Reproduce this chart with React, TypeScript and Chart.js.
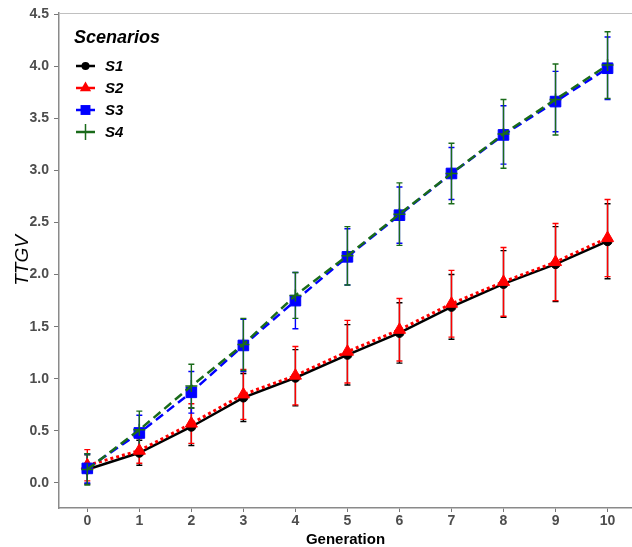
import React, { useEffect, useRef } from "react";
import { Chart, registerables } from "chart.js";

Chart.register(...registerables);

const generations = [0, 1, 2, 3, 4, 5, 6, 7, 8, 9, 10];
const s1 = [0.13, 0.29, 0.54, 0.82, 1.01, 1.23, 1.44, 1.69, 1.91, 2.1, 2.32];
const s1Err = [0.14, 0.12, 0.18, 0.23, 0.27, 0.29, 0.29, 0.31, 0.32, 0.36, 0.36];
const s2 = [0.17, 0.31, 0.57, 0.85, 1.03, 1.26, 1.47, 1.72, 1.93, 2.12, 2.35];
const s2Err = [0.15, 0.12, 0.19, 0.24, 0.28, 0.3, 0.3, 0.32, 0.33, 0.37, 0.37];
const s3 = [0.14, 0.48, 0.87, 1.32, 1.75, 2.17, 2.57, 2.97, 3.34, 3.66, 3.98];
const s3Err = [0.14, 0.17, 0.2, 0.25, 0.27, 0.27, 0.27, 0.25, 0.28, 0.29, 0.3];
const s4 = [0.13, 0.51, 0.93, 1.33, 1.8, 2.18, 2.58, 2.97, 3.35, 3.68, 4.01];
const s4Err = [0.15, 0.18, 0.21, 0.25, 0.22, 0.28, 0.3, 0.29, 0.33, 0.34, 0.32];
const yTickValues = [0, 0.5, 1, 1.5, 2, 2.5, 3, 3.5, 4, 4.5];
const scenarioNames = ["S1", "S2", "S3", "S4"];

const FONT = "'Liberation Sans', Arial, sans-serif";

type Series = {
  label: string;
  values: number[];
  errors: number[];
  color: string;
  dash: number[];
  width: number;
  pointStyle: string;
  radius: number;
  pointBorder: number;
  order: number;
};

const series: Series[] = [
  { label: scenarioNames[0], values: s1, errors: s1Err, color: "#000000", dash: [], width: 2.5, pointStyle: "circle", radius: 4.5, pointBorder: 1, order: 4 },
  { label: scenarioNames[1], values: s2, errors: s2Err, color: "#ff0000", dash: [3, 3], width: 3, pointStyle: "triangle", radius: 7, pointBorder: 1, order: 3 },
  { label: scenarioNames[2], values: s3, errors: s3Err, color: "#0000ff", dash: [9, 5], width: 2.5, pointStyle: "rect", radius: 7.5, pointBorder: 1, order: 2 },
  { label: scenarioNames[3], values: s4, errors: s4Err, color: "#1a6b1a", dash: [9, 5], width: 2.5, pointStyle: "cross", radius: 6, pointBorder: 1.5, order: 1 },
];

function drawMarker(ctx: CanvasRenderingContext2D, style: string, x: number, y: number, r: number, color: string, bw: number) {
  ctx.save();
  ctx.fillStyle = color;
  ctx.strokeStyle = color;
  ctx.lineWidth = bw;
  ctx.setLineDash([]);
  ctx.beginPath();
  if (style === "circle") {
    ctx.arc(x, y, r, 0, Math.PI * 2);
    ctx.fill();
  } else if (style === "triangle") {
    for (let i = 0; i < 3; i++) {
      const a = (i * 2 * Math.PI) / 3;
      const px = x + Math.sin(a) * r;
      const py = y - Math.cos(a) * r;
      if (i === 0) ctx.moveTo(px, py);
      else ctx.lineTo(px, py);
    }
    ctx.closePath();
    ctx.fill();
  } else if (style === "rect") {
    const s = Math.SQRT1_2 * r;
    ctx.rect(x - s, y - s, 2 * s, 2 * s);
    ctx.fill();
  } else {
    ctx.moveTo(x - r, y);
    ctx.lineTo(x + r, y);
    ctx.moveTo(x, y - r);
    ctx.lineTo(x, y + r);
    ctx.stroke();
  }
  ctx.restore();
}

const errorBarPlugin = {
  id: "errorBars",
  beforeDatasetsDraw(chart: any) {
    const ctx: CanvasRenderingContext2D = chart.ctx;
    const xs = chart.scales.x;
    const ys = chart.scales.y;
    ctx.save();
    series.forEach((s) => {
      ctx.strokeStyle = s.color;
      ctx.lineWidth = 1.4;
      ctx.setLineDash([]);
      s.values.forEach((v, i) => {
        const x = xs.getPixelForValue(generations[i]);
        const yt = ys.getPixelForValue(v + s.errors[i]);
        const yb = ys.getPixelForValue(v - s.errors[i]);
        ctx.beginPath();
        ctx.moveTo(x, yt);
        ctx.lineTo(x, yb);
        ctx.moveTo(x - 3, yt);
        ctx.lineTo(x + 3, yt);
        ctx.moveTo(x - 3, yb);
        ctx.lineTo(x + 3, yb);
        ctx.stroke();
      });
    });
    ctx.restore();
  },
  afterDraw(chart: any) {
    const ctx: CanvasRenderingContext2D = chart.ctx;
    const a = chart.chartArea;
    ctx.save();
    // top panel border
    ctx.strokeStyle = "#c0c0c0";
    ctx.lineWidth = 1.2;
    ctx.beginPath();
    ctx.moveTo(a.left, a.top + 0.5);
    ctx.lineTo(a.right, a.top + 0.5);
    ctx.stroke();

    // legend
    ctx.fillStyle = "#000";
    ctx.textBaseline = "middle";
    ctx.textAlign = "left";
    ctx.font = `italic bold 18px ${FONT}`;
    ctx.fillText("Scenarios", 74, 38);
    ctx.font = `italic bold 15px ${FONT}`;
    const ys0 = [66, 88, 110, 132];
    series.forEach((s, i) => {
      const y = ys0[i];
      ctx.strokeStyle = s.color;
      ctx.lineWidth = 2.5;
      ctx.setLineDash([]);
      ctx.beginPath();
      ctx.moveTo(76, y);
      ctx.lineTo(95, y);
      ctx.stroke();
      drawMarker(ctx, s.pointStyle, 85.5, y, s.pointStyle === "cross" ? 8 : s.radius - 0.5, s.color, s.pointBorder);
      ctx.fillStyle = "#000";
      ctx.fillText(s.label, 105, y + 1);
    });
    ctx.restore();
  },
};

export default function App() {
  const ref = useRef<HTMLCanvasElement>(null);
  useEffect(() => {
    document.body.style.margin = "0";
    const canvas = ref.current!;
    const chart = new Chart(canvas, {
      type: "scatter",
      data: {
        datasets: series.map((s) => ({
          label: s.label,
          data: s.values.map((v, i) => ({ x: generations[i], y: v })),
          showLine: true,
          borderColor: s.color,
          backgroundColor: s.color,
          borderWidth: s.width,
          borderDash: s.dash,
          pointStyle: s.pointStyle as any,
          pointRadius: s.radius,
          pointBorderWidth: s.pointBorder,
          pointBorderColor: s.color,
          pointBackgroundColor: s.color,
          order: s.order,
          tension: 0,
        })),
      },
      options: {
        animation: false,
        responsive: false,
        devicePixelRatio: 1,
        layout: { autoPadding: false, padding: { top: 13, right: 0, left: 0, bottom: 0 } },
        plugins: { legend: { display: false }, tooltip: { enabled: false } },
        scales: {
          x: {
            type: "linear",
            min: -0.544,
            max: 10.47,
            afterBuildTicks: (scale: any) => {
              scale.ticks = generations.map((g) => ({ value: g }));
            },
            afterFit: (scale: any) => {
              scale.height = 39;
              scale.paddingLeft = 0;
              scale.paddingRight = 0;
            },
            ticks: {
              color: "#4d4d4d",
              font: { family: FONT, size: 14, weight: "bold" },
              padding: 1,
              maxRotation: 0,
              callback: (v: any) => String(v),
            },
            grid: { display: true, drawOnChartArea: false, drawTicks: true, tickLength: 4, color: "#777", lineWidth: 1 },
            border: { display: true, color: "#8a8a8a", width: 1.5 },
            title: {
              display: true,
              text: "Generation",
              color: "#000",
              font: { family: FONT, size: 15, weight: "bold", lineHeight: 0.9 },
              padding: { top: 0, bottom: 0 },
            },
          },
          y: {
            type: "linear",
            min: -0.24,
            max: 4.51,
            afterBuildTicks: (scale: any) => {
              scale.ticks = yTickValues.map((v) => ({ value: v }));
            },
            afterFit: (scale: any) => {
              scale.width = 59;
              scale.paddingTop = 0;
              scale.paddingBottom = 0;
            },
            ticks: {
              color: "#4d4d4d",
              font: { family: FONT, size: 14, weight: "bold" },
              padding: 5,
              callback: (v: any) => Number(v).toFixed(1),
            },
            grid: { display: true, drawOnChartArea: false, drawTicks: true, tickLength: 5, color: "#777", lineWidth: 1 },
            border: { display: true, color: "#8a8a8a", width: 1.5 },
            title: {
              display: true,
              text: "TTGV",
              color: "#000",
              font: { family: FONT, size: 19, style: "italic" },
              padding: { top: 11, bottom: 0 },
            },
          },
        },
      },
      plugins: [errorBarPlugin],
    });
    return () => chart.destroy();
  }, []);
  return <canvas ref={ref} width={632} height={547} style={{ display: "block" }} />;
}
